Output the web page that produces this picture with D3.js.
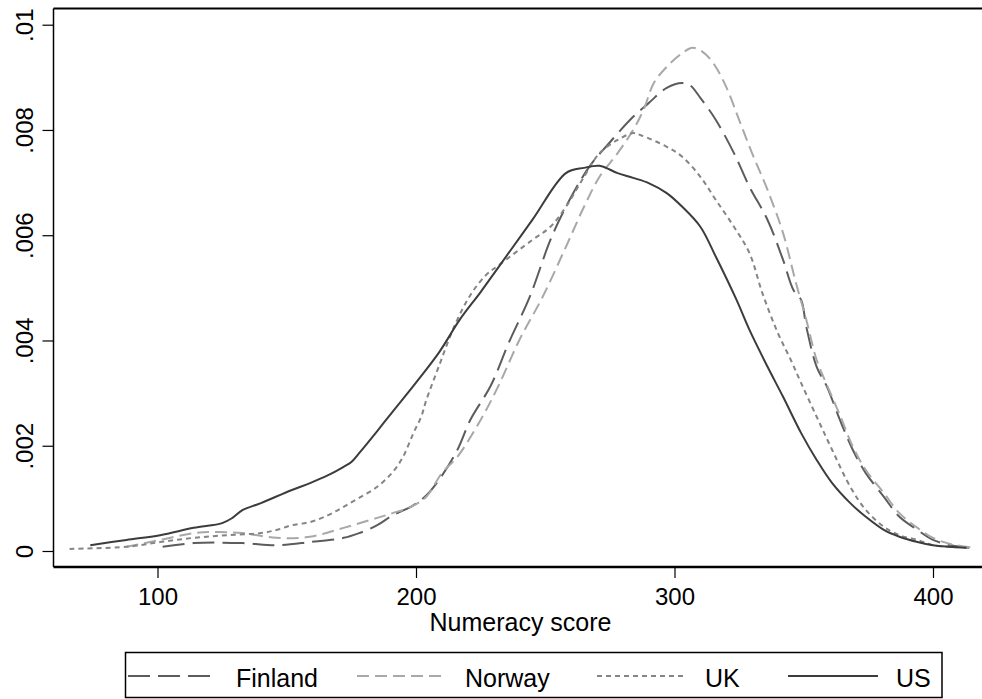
<!DOCTYPE html>
<html>
<head>
<meta charset="utf-8">
<script src="https://cdn.jsdelivr.net/npm/d3@7"></script>
<style>
  html, body { margin: 0; padding: 0; background: #fff; }
  svg { display: block; font-family: Arial, "Liberation Sans", sans-serif; }
</style>
</head>
<body>
<svg id="chart" width="982" height="699"></svg>
<script>
// Kernel density estimates of numeracy scores by country
const usScore = [74, 88, 101, 114, 125, 129, 133, 140, 152, 159, 166, 172, 175, 178, 185, 191, 200, 209, 217, 225, 232, 245, 258, 265, 271, 278, 284, 290, 297, 303, 310, 316, 324, 329, 336, 342, 349, 355, 361, 368, 374, 381, 387, 394, 400, 413];
const usDensity = [0.00011, 0.00021, 0.00030, 0.00044, 0.00053, 0.00063, 0.00078, 0.00091, 0.00116, 0.00129, 0.00144, 0.00160, 0.00169, 0.00186, 0.00228, 0.00265, 0.00320, 0.00378, 0.00440, 0.00492, 0.00540, 0.00629, 0.00718, 0.00728, 0.00732, 0.00718, 0.00709, 0.00699, 0.00680, 0.00654, 0.00616, 0.00559, 0.00477, 0.00420, 0.00350, 0.00293, 0.00224, 0.00173, 0.00129, 0.00091, 0.00065, 0.00040, 0.00027, 0.00017, 0.00011, 0.00006];

const ukScore = [66, 88, 101, 114, 127, 140, 146, 152, 159, 166, 172, 178, 185, 191, 195, 199, 202, 204, 209, 215, 221, 227, 232, 245, 252, 258, 265, 271, 278, 284, 287, 297, 303, 310, 316, 323, 329, 334, 340, 345, 349, 355, 361, 368, 374, 381, 387, 394, 400, 407];
const ukDensity = [0.00004, 0.00008, 0.00017, 0.00025, 0.00030, 0.00034, 0.00040, 0.00049, 0.00055, 0.00068, 0.00084, 0.00101, 0.00122, 0.00150, 0.00179, 0.00224, 0.00255, 0.00287, 0.00353, 0.00429, 0.00486, 0.00524, 0.00543, 0.00591, 0.00616, 0.00654, 0.00711, 0.00756, 0.00781, 0.00794, 0.00790, 0.00768, 0.00749, 0.00711, 0.00667, 0.00616, 0.00566, 0.00490, 0.00414, 0.00363, 0.00319, 0.00255, 0.00192, 0.00122, 0.00078, 0.00046, 0.00030, 0.00021, 0.00011, 0.00008];

const finlandScore = [102, 114, 133, 146, 159, 172, 178, 185, 191, 198, 203, 208, 216, 221, 229, 236, 244, 252, 258, 267, 274, 284, 290, 297, 303, 306, 310, 316, 323, 329, 336, 342, 346, 349, 351, 355, 359, 364, 369, 374, 381, 387, 394, 400, 407, 414];
const finlandDensity = [0.00008, 0.00015, 0.00015, 0.00011, 0.00017, 0.00025, 0.00034, 0.00049, 0.00068, 0.00084, 0.00101, 0.00129, 0.00192, 0.00249, 0.00315, 0.00397, 0.00483, 0.00591, 0.00654, 0.00730, 0.00771, 0.00825, 0.00851, 0.00880, 0.00889, 0.00885, 0.00861, 0.00819, 0.00756, 0.00692, 0.00629, 0.00553, 0.00496, 0.00477, 0.00426, 0.00350, 0.00312, 0.00249, 0.00192, 0.00148, 0.00103, 0.00065, 0.00040, 0.00021, 0.00011, 0.00006];

const norwayScore = [88, 101, 114, 123, 133, 146, 159, 172, 185, 191, 198, 204, 210, 216, 225, 232, 240, 249, 258, 265, 271, 278, 284, 288, 292, 297, 303, 307, 311, 315, 320, 325, 330, 336, 342, 347, 351, 355, 359, 364, 369, 374, 381, 387, 394, 400, 407, 416];
const norwayDensity = [0.00008, 0.00021, 0.00034, 0.00036, 0.00034, 0.00025, 0.00027, 0.00044, 0.00063, 0.00072, 0.00084, 0.00103, 0.00148, 0.00179, 0.00249, 0.00315, 0.00401, 0.00483, 0.00578, 0.00654, 0.00711, 0.00756, 0.00800, 0.00838, 0.00889, 0.00920, 0.00946, 0.00956, 0.00948, 0.00927, 0.00882, 0.00819, 0.00756, 0.00686, 0.00604, 0.00509, 0.00439, 0.00363, 0.00315, 0.00258, 0.00198, 0.00154, 0.00110, 0.00072, 0.00044, 0.00025, 0.00013, 0.00006];

const xTicks = [100, 200, 300, 400];
const yTicks = [0, 0.002, 0.004, 0.006, 0.008, 0.01];
const yTickLabels = ["0", ".002", ".004", ".006", ".008", ".01"];
const seriesNames = ["Finland", "Norway", "UK", "US"];
const seriesColors = ["#5c5c5c", "#a8a8a8", "#858585", "#3c3c3c"];
const seriesDashes = ["22,8", "12,6", "5,4", null];

const series = [
  { name: "Finland", score: finlandScore, density: finlandDensity },
  { name: "Norway", score: norwayScore, density: norwayDensity },
  { name: "UK", score: ukScore, density: ukDensity },
  { name: "US", score: usScore, density: usDensity }
];

const svg = d3.select("#chart");
const frame = { left: 53.5, right: 982, top: 8.5, bottom: 567 };

const x = d3.scaleLinear().domain([100, 400]).range([157.5, 933]);
const y = d3.scaleLinear().domain([0, 0.01]).range([551, 24.7]);

// Plot region border: left, top and bottom
svg.append("line").attr("x1", frame.left).attr("x2", frame.left)
  .attr("y1", frame.top).attr("y2", frame.bottom)
  .attr("stroke", "#000").attr("stroke-width", 1.5);
svg.append("line").attr("x1", frame.left).attr("x2", frame.right)
  .attr("y1", frame.top).attr("y2", frame.top)
  .attr("stroke", "#000").attr("stroke-width", 2);
svg.append("line").attr("x1", frame.left).attr("x2", frame.right)
  .attr("y1", frame.bottom).attr("y2", frame.bottom)
  .attr("stroke", "#000").attr("stroke-width", 2.5);

// Y axis
const yAxis = d3.axisLeft(y).tickValues(yTicks).tickSize(11)
  .tickFormat((d, i) => yTickLabels[i]);
const gy = svg.append("g").attr("transform", `translate(${frame.left},0)`).call(yAxis);
gy.select(".domain").remove();
gy.selectAll(".tick line").attr("stroke", "#000").attr("stroke-width", 1.2);
gy.selectAll(".tick text")
  .attr("font-size", 24).attr("fill", "#000")
  .attr("font-family", "Arial, 'Liberation Sans', sans-serif")
  .attr("text-anchor", "middle")
  .attr("dy", null).attr("x", null)
  .attr("transform", "translate(-21,0) rotate(-90)");

// X axis
const xAxis = d3.axisBottom(x).tickValues(xTicks).tickSize(11).tickFormat(d3.format("d"));
const gx = svg.append("g").attr("transform", `translate(0,${frame.bottom})`).call(xAxis);
gx.select(".domain").remove();
gx.selectAll(".tick line").attr("stroke", "#000").attr("stroke-width", 1.2);
gx.selectAll(".tick text")
  .attr("font-size", 24).attr("fill", "#000")
  .attr("font-family", "Arial, 'Liberation Sans', sans-serif")
  .attr("dy", null).attr("y", 38);

svg.append("text").attr("x", 520.5).attr("y", 631)
  .attr("text-anchor", "middle").attr("font-size", 25).attr("fill", "#000")
  .text("Numeracy score");

// Density curves
const line = d3.line()
  .x(d => x(d[0]))
  .y(d => y(d[1]))
  .curve(d3.curveCatmullRom.alpha(0.5));

const plot = svg.append("g");
series.forEach((s, i) => {
  const pts = s.score.map((v, k) => [v, s.density[k]]);
  plot.append("path")
    .datum(pts)
    .attr("d", line)
    .attr("fill", "none")
    .attr("stroke", seriesColors[i])
    .attr("stroke-width", 2)
    .attr("stroke-dasharray", seriesDashes[i]);
});

// Legend
const legend = svg.append("g");
legend.append("rect")
  .attr("x", 125.5).attr("y", 652.5).attr("width", 816.5).attr("height", 45)
  .attr("fill", "#fff").attr("stroke", "#000").attr("stroke-width", 1.5);

const keyStarts = [128, 357, 597, 788];
const keyLen = 90;
seriesNames.forEach((name, i) => {
  const kx = keyStarts[i];
  legend.append("line")
    .attr("x1", kx).attr("x2", kx + keyLen)
    .attr("y1", 676).attr("y2", 676)
    .attr("stroke", seriesColors[i]).attr("stroke-width", 2)
    .attr("stroke-dasharray", seriesDashes[i]);
  legend.append("text")
    .attr("x", kx + keyLen + 18).attr("y", 687)
    .attr("font-size", 25).attr("fill", "#000")
    .text(name);
});
</script>
</body>
</html>
